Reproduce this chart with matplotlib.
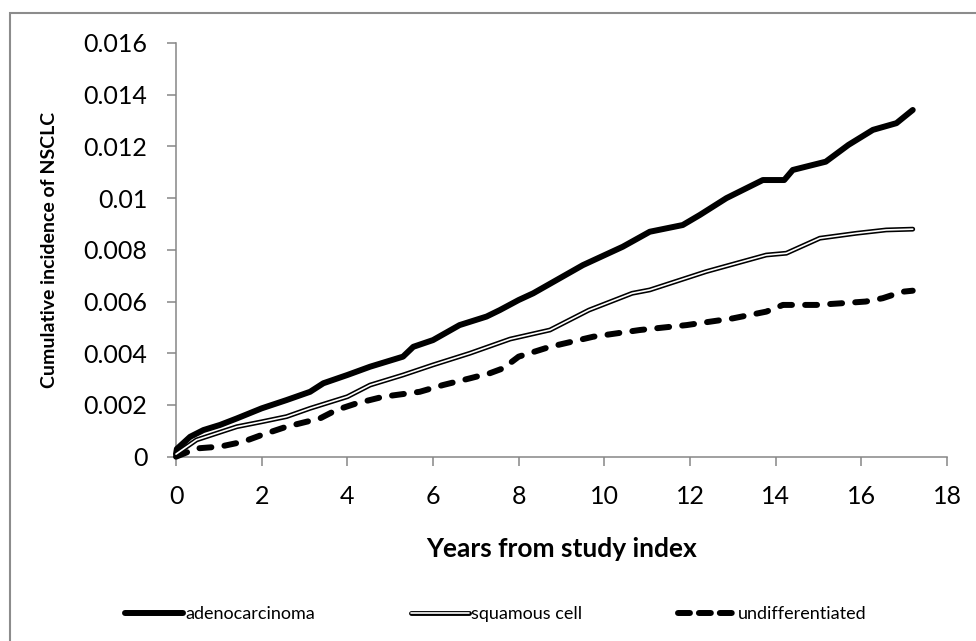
import matplotlib
matplotlib.use("Agg")
import matplotlib.pyplot as plt
from matplotlib.lines import Line2D
from matplotlib.patches import Rectangle
from matplotlib.legend_handler import HandlerTuple

plt.rcParams['font.family'] = ['Lato', 'DejaVu Sans']

# ---- data ----
adeno_x = [0, 0.02, 0.33, 0.64, 1.03, 1.42, 2.0, 2.58, 3.13, 3.44, 4.0, 4.53, 5.3, 5.54,
           6.0, 6.62, 7.25, 7.56, 8.0, 8.34, 9.5, 10.43, 11.06, 11.83, 12.23, 12.85,
           13.7, 14.2, 14.4, 15.17, 15.7, 16.27, 16.82, 17.2]
adeno_y = [0.0001, 0.0003, 0.00077, 0.00103, 0.00123, 0.00148, 0.00187, 0.00219, 0.00251,
           0.00284, 0.00316, 0.00348, 0.00387, 0.00425, 0.00451, 0.00509, 0.00542, 0.00567,
           0.00606, 0.00632, 0.00741, 0.00812, 0.0087, 0.00896, 0.00935, 0.0100, 0.0107,
           0.0107, 0.01109, 0.01141, 0.01206, 0.01264, 0.0129, 0.01341]

squam_x = [0, 0.48, 1.42, 2.0, 2.58, 3.13, 4.0, 4.53, 5.3, 6.0, 6.86, 7.8, 8.73, 9.64,
           10.65, 11.06, 12.38, 13.78, 14.25, 15.03, 15.88, 16.58, 17.2]
squam_y = [0.0001, 0.00065, 0.00116, 0.00135, 0.00155, 0.00187, 0.00232, 0.00277, 0.00316,
           0.00355, 0.004, 0.00455, 0.0049, 0.00567, 0.00632, 0.00645, 0.00716, 0.0078,
           0.00787, 0.00845, 0.00864, 0.00877, 0.0088]

undiff_x = [0, 0.48, 1.03, 1.57, 2.0, 2.58, 3.36, 3.75, 4.21, 4.84, 5.69, 6.23, 6.86, 7.33,
            7.64, 8.0, 8.73, 9.74, 10.83, 11.92, 13.0, 13.78, 14.17, 14.95, 15.5, 16.1,
            16.5, 16.96, 17.2]
undiff_y = [0.0, 0.00032, 0.00039, 0.00058, 0.00084, 0.00116, 0.00148, 0.00181, 0.00206,
            0.00232, 0.00251, 0.00277, 0.00303, 0.00323, 0.00342, 0.00387, 0.00425, 0.00464,
            0.0049, 0.00509, 0.00535, 0.00561, 0.00587, 0.00587, 0.00593, 0.006, 0.00613,
            0.00638, 0.00642]

x_ticks = [0, 2, 4, 6, 8, 10, 12, 14, 16, 18]
y_ticks = [0, 0.002, 0.004, 0.006, 0.008, 0.01, 0.012, 0.014, 0.016]
y_tick_labels = ["0", "0.002", "0.004", "0.006", "0.008", "0.01", "0.012", "0.014", "0.016"]
series_names = ["adenocarcinoma", "squamous cell", "undifferentiated"]
x_label = "Years from study index"
y_label = "Cumulative incidence of NSCLC"

# ---- figure ----
W, H = 976, 641
fig = plt.figure(figsize=(W / 100, H / 100), dpi=100)
ax = fig.add_axes([176 / W, 1 - 456.7 / H, (947 - 176) / W, (456.7 - 43) / H])

gray = '#868686'

# outer chart border
fig.patches.append(Rectangle((10 / W, -0.1), 1.2, 1 - 13 / H + 0.1,
                             transform=fig.transFigure, fill=False,
                             edgecolor='#8c8c8c', linewidth=1.5, zorder=0))

ax.plot(adeno_x, adeno_y, color='black', lw=4.3, solid_capstyle='round',
        solid_joinstyle='round', clip_on=False, zorder=3)
ax.plot(squam_x, squam_y, color='black', lw=3.5, solid_capstyle='round',
        solid_joinstyle='miter', clip_on=False, zorder=3)
ax.plot(squam_x, squam_y, color='white', lw=1.2, solid_capstyle='round',
        solid_joinstyle='miter', clip_on=False, zorder=4)
ax.plot(undiff_x, undiff_y, color='black', lw=4.3, dashes=(2.0, 2.2),
        dash_capstyle='round', dash_joinstyle='round', clip_on=False, zorder=3)

ax.set_xlim(0, 18)
ax.set_ylim(0, 0.016)
ax.set_xticks(x_ticks)
ax.set_xticklabels([str(t) for t in x_ticks])
ax.set_yticks(y_ticks)
ax.set_yticklabels(y_tick_labels)

for s in ['top', 'right']:
    ax.spines[s].set_visible(False)
for s in ['left', 'bottom']:
    ax.spines[s].set_color(gray)
    ax.spines[s].set_linewidth(1.1)

ax.tick_params(axis='both', direction='out', length=6.5, width=1.1, color=gray,
               labelsize=18, labelcolor='black', pad=14)

ax.set_xlabel(x_label, fontsize=19, fontweight='bold')
ax.xaxis.set_label_coords(0.5, -0.194)
ax.set_ylabel(y_label, fontsize=14, fontweight='bold')
ax.yaxis.set_label_coords(-0.153, 0.5)

h1 = Line2D([], [], color='black', lw=4.3, solid_capstyle='round')
h2 = (Line2D([], [], color='black', lw=3.5, solid_capstyle='round'),
      Line2D([], [], color='white', lw=1.2, solid_capstyle='round'))
h3 = Line2D([], [], color='black', lw=4.3, dashes=(2.0, 1.5), dash_capstyle='round')

fig.legend([h1, h2, h3], series_names, loc='center', bbox_to_anchor=(0.508, 0.042),
           ncol=3, frameon=False, fontsize=13, handlelength=3.2, handletextpad=0.12,
           columnspacing=5.3, handler_map={tuple: HandlerTuple(ndivide=1)})

fig.savefig('out.png', dpi=100)
